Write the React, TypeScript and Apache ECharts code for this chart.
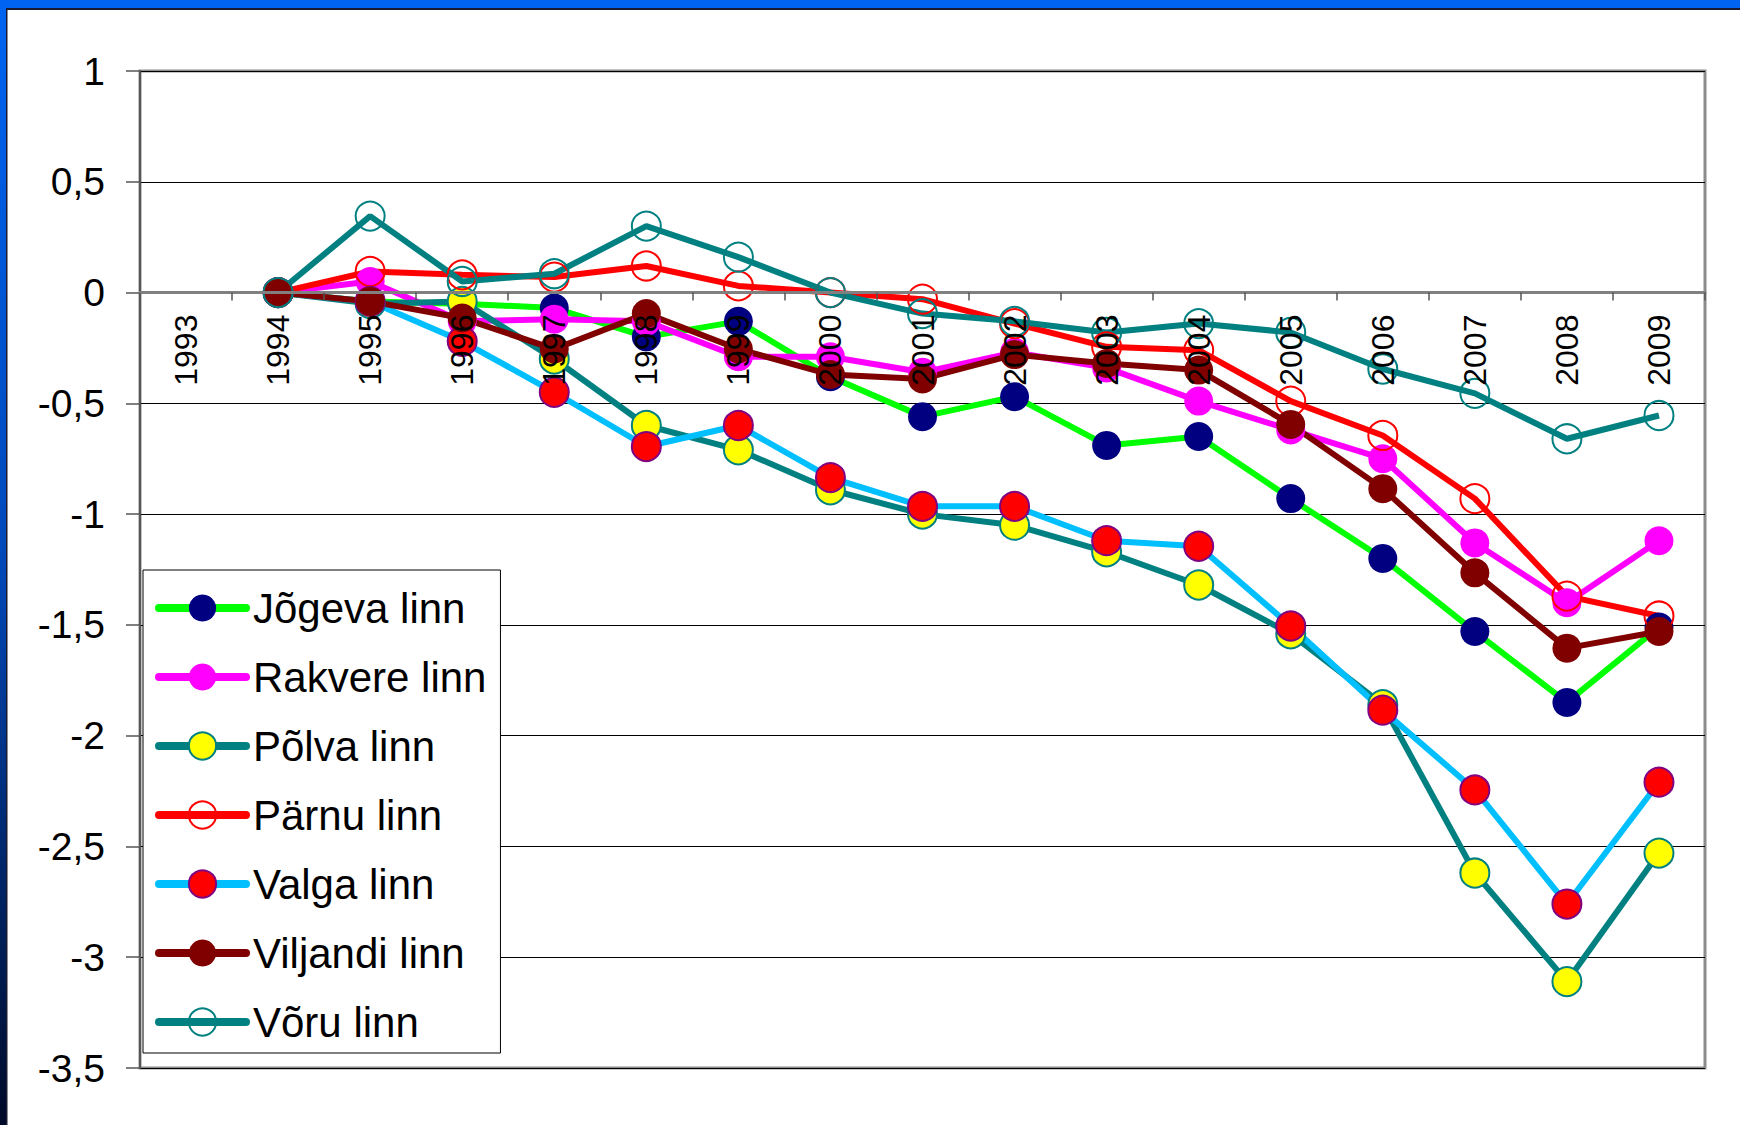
import React, { useEffect, useRef } from "react";
import * as echarts from "echarts";

const years = ["1993","1994","1995","1996","1997","1998","1999","2000","2001","2002","2003","2004","2005","2006","2007","2008","2009"];

const jogeva = [null, 0, -0.04, -0.05, -0.07, -0.2, -0.13, -0.38, -0.56, -0.47, -0.69, -0.65, -0.93, -1.2, -1.53, -1.85, -1.51];
const rakvere = [null, 0, 0.05, -0.13, -0.12, -0.13, -0.29, -0.29, -0.36, -0.27, -0.34, -0.49, -0.62, -0.75, -1.13, -1.4, -1.12];
const polva = [null, 0, -0.05, -0.04, -0.3, -0.6, -0.71, -0.89, -1.0, -1.05, -1.17, -1.32, -1.54, -1.86, -2.62, -3.11, -2.53];
const parnu = [null, 0, 0.095, 0.08, 0.07, 0.12, 0.03, 0.0, -0.03, -0.14, -0.245, -0.26, -0.49, -0.645, -0.93, -1.37, -1.46];
const valga = [null, 0, -0.04, -0.22, -0.45, -0.695, -0.6, -0.835, -0.965, -0.965, -1.12, -1.145, -1.505, -1.885, -2.245, -2.76, -2.21];
const viljandi = [null, 0, -0.04, -0.115, -0.255, -0.095, -0.255, -0.37, -0.39, -0.28, -0.32, -0.35, -0.595, -0.885, -1.265, -1.605, -1.53];
const voru = [null, 0, 0.345, 0.05, 0.085, 0.3, 0.16, 0.0, -0.095, -0.13, -0.18, -0.14, -0.18, -0.345, -0.455, -0.66, -0.555];

const seriesDefs = [
  { name: "Jõgeva linn", data: jogeva, line: "#00FF00", fill: "#000080", border: "#000080", bw: 0 },
  { name: "Rakvere linn", data: rakvere, line: "#FF00FF", fill: "#FF00FF", border: "#FF00FF", bw: 0 },
  { name: "Põlva linn", data: polva, line: "#008080", fill: "#FFFF00", border: "#008080", bw: 2 },
  { name: "Pärnu linn", data: parnu, line: "#FF0000", fill: "transparent", border: "#FF0000", bw: 2 },
  { name: "Valga linn", data: valga, line: "#00BFFF", fill: "#FF0000", border: "#800080", bw: 2 },
  { name: "Viljandi linn", data: viljandi, line: "#800000", fill: "#800000", border: "#800000", bw: 0 },
  { name: "Võru linn", data: voru, line: "#008080", fill: "transparent", border: "#008080", bw: 2 },
];

const FONT = "Liberation Sans, Arial, sans-serif";

const GRID_TOP = 71;
const GRID_BOTTOM = 57;
const CHART_H = 1125;
const Y_MIN = -3.5;
const Y_MAX = 1;

export default function App() {
  const ref = useRef<HTMLDivElement>(null);
  useEffect(() => {
    if (!ref.current) return;
    const chart = echarts.init(ref.current, null, { renderer: "svg" });
    const plotH = CHART_H - GRID_TOP - GRID_BOTTOM;
    const zeroFromBottom = ((0 - Y_MIN) / (Y_MAX - Y_MIN)) * plotH;
    chart.setOption({
      animation: false,
      backgroundColor: "#ffffff",
      graphic: [
        { type: "rect", shape: { x: 0, y: 0, width: 1740, height: 8 }, style: { fill: "#0064F2" }, z: 10 },
        { type: "rect", shape: { x: 0, y: 8, width: 1740, height: 2 }, style: { fill: "#1a1a30" }, z: 10 },
        {
          type: "rect",
          shape: { x: 0, y: 0, width: 6, height: 1125 },
          style: {
            fill: new echarts.graphic.LinearGradient(0, 0, 0, 1, [
              { offset: 0, color: "#0064F2" },
              { offset: 0.5, color: "#0048B8" },
              { offset: 1, color: "#000A28" },
            ]),
          },
          z: 10,
        },
        { type: "rect", shape: { x: 6, y: 8, width: 1.5, height: 1117 }, style: { fill: "#1a1a30" }, z: 10 },
      ],
      grid: {
        left: 140,
        right: 35,
        top: GRID_TOP,
        bottom: GRID_BOTTOM,
        show: true,
        borderColor: "#8c8c8c",
        borderWidth: 3,
        backgroundColor: "transparent",
      },
      legend: {
        orient: "vertical",
        left: 143,
        top: 570,
        backgroundColor: "#ffffff",
        borderColor: "#000000",
        borderWidth: 1,
        padding: [16, 14, 9, 12],
        itemWidth: 87,
        itemHeight: 34,
        itemGap: 25,
        lineStyle: { width: 8, cap: "round" },
        textStyle: {
          fontFamily: FONT,
          fontSize: 42,
          lineHeight: 44,
          color: "#000000",
          padding: [0, 0, 0, 2],
        },
        data: seriesDefs.map((s) => s.name),
      },
      xAxis: {
        type: "category",
        data: years,
        boundaryGap: true,
        z: 5,
        offset: -zeroFromBottom,
        axisLine: { show: true, onZero: false, lineStyle: { color: "#808080", width: 3 } },
        axisTick: { show: true, length: 8, lineStyle: { color: "#555555", width: 1.5 } },
        axisLabel: {
          rotate: 90,
          margin: 22,
          fontFamily: FONT,
          fontSize: 32,
          color: "#000000",
          interval: 0,
        },
        splitLine: { show: false },
      },
      yAxis: {
        type: "value",
        min: Y_MIN,
        max: Y_MAX,
        interval: 0.5,
        axisLine: { show: true, lineStyle: { color: "#555555", width: 2 } },
        axisTick: { show: true, length: 14, lineStyle: { color: "#555555", width: 1.5 } },
        axisLabel: {
          margin: 35,
          fontFamily: FONT,
          fontSize: 39,
          color: "#000000",
          formatter: (v: number) => String(v).replace(".", ","),
        },
        splitLine: { show: true, lineStyle: { color: "#000000", width: 1 } },
      },
      series: seriesDefs.map((s) => ({
        name: s.name,
        type: "line",
        data: s.data,
        symbol: "circle",
        symbolSize: 29,
        showAllSymbol: true,
        connectNulls: false,
        lineStyle: { color: s.line, width: 6 },
        itemStyle: { color: s.fill, borderColor: s.border, borderWidth: s.bw },
        emphasis: { disabled: true },
      })),
    });
    return () => chart.dispose();
  }, []);
  return (
    <div
      ref={ref}
      style={{ position: "absolute", left: 0, top: 0, width: 1740, height: 1125 }}
    />
  );
}
